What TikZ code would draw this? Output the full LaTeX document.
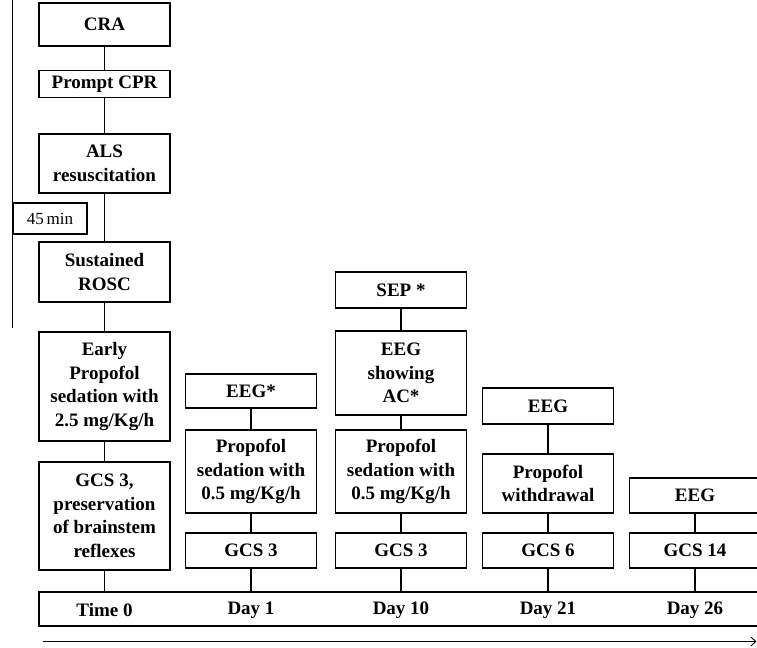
\documentclass[tikz,border=0pt]{standalone}
\usepackage{fontspec}
\setmainfont{Liberation Serif}
\usetikzlibrary{arrows.meta}
\begin{document}
\begin{tikzpicture}[x=1bp,y=-1bp,
  box/.style={draw, line width=1.1pt, minimum width=131bp, inner sep=0pt, align=center,
    font=\fontsize{19bp}{23.5bp}\selectfont\bfseries},
  conn/.style={line width=1.1pt},
  lbl/.style={inner sep=0pt, font=\fontsize{19bp}{23.5bp}\selectfont\bfseries}]
\useasboundingbox (0,0) rectangle (757,648);
\clip (0,0) rectangle (757,648);
\fill[white] (0,0) rectangle (757,648);
% left time line
\coordinate (lt) at (12,0);
\coordinate (lb) at (12,328);
\draw[line width=0.9pt] (lt) -- (lb);
% column 1
\node[box, minimum height=43bp] (cra) at (104.5,24.5) {CRA};
\node[box, minimum height=27bp] (cpr) at (104.5,84) {Prompt CPR};
\node[box, minimum height=59bp] (als) at (104.5,163.5) {ALS\\resuscitation};
\node[box, minimum width=74bp, minimum height=31bp, font=\fontsize{17bp}{20bp}\selectfont] (min) at (50,218.5) {45\,min};
\node[box, minimum height=60bp] (rosc) at (104.5,272) {Sustained\\ROSC};
\node[box, minimum height=109bp] (early) at (104.5,386.5) {Early\\Propofol\\sedation with\\2.5 mg/Kg/h};
\node[box, minimum height=108bp] (gcs0) at (104.5,516) {GCS 3,\\preservation\\of brainstem\\reflexes};
% day 1
\node[box, minimum height=34bp] (eeg1) at (251,391) {EEG*};
\node[box, minimum height=83bp] (prop1) at (251,471.5) {Propofol\\sedation with\\0.5 mg/Kg/h};
\node[box, minimum height=35bp] (gcs1) at (251,550.5) {GCS 3};
% day 10
\node[box, minimum height=36bp] (sep) at (401,290) {SEP *};
\node[box, minimum height=84bp] (eeg10) at (401,373) {EEG\\showing\\AC*};
\node[box, minimum height=83bp] (prop10) at (401,471.5) {Propofol\\sedation with\\0.5 mg/Kg/h};
\node[box, minimum height=35bp] (gcs10) at (401,550.5) {GCS 3};
% day 21
\node[box, minimum height=36bp] (eeg21) at (548,406) {EEG};
\node[box, minimum height=59bp] (prop21) at (548,483.5) {Propofol\\withdrawal};
\node[box, minimum height=35bp] (gcs21) at (548,550.5) {GCS 6};
% day 26
\node[box, minimum height=35bp] (eeg26) at (695,495.5) {EEG};
\node[box, minimum height=35bp] (gcs26) at (695,550.5) {GCS 14};
% timeline box
\node[draw, line width=1.1pt, minimum width=740bp, minimum height=34bp, inner sep=0pt] (tl) at (409,609) {};
\node[lbl] (t0) at (104.5,610) {Time 0};
\node[lbl] (d1) at (251,610) {Day 1};
\node[lbl] (d10) at (401,610) {Day 10};
\node[lbl] (d21) at (548,610) {Day 21};
\node[lbl] (d26) at (695,610) {Day 26};
% arrow
\coordinate (as) at (43,641.5);
\coordinate (ae) at (756.5,641.5);
\draw[line width=0.9pt, -{Straight Barb[length=5bp,width=9bp]}] (as) -- (ae);
% connectors
\draw[conn] (cra) -- (cpr);
\draw[conn] (cpr) -- (als);
\draw[conn] (als) -- (rosc);
\draw[conn] (rosc) -- (early);
\draw[conn] (early) -- (gcs0);
\draw[conn] (gcs0.south) -- (gcs0.south |- tl.north);
\draw[conn] (eeg1) -- (prop1);
\draw[conn] (prop1) -- (gcs1);
\draw[conn] (gcs1.south) -- (gcs1.south |- tl.north);
\draw[conn] (sep) -- (eeg10);
\draw[conn] (eeg10) -- (prop10);
\draw[conn] (prop10) -- (gcs10);
\draw[conn] (gcs10.south) -- (gcs10.south |- tl.north);
\draw[conn] (eeg21) -- (prop21);
\draw[conn] (prop21) -- (gcs21);
\draw[conn] (gcs21.south) -- (gcs21.south |- tl.north);
\draw[conn] (eeg26) -- (gcs26);
\draw[conn] (gcs26.south) -- (gcs26.south |- tl.north);
\end{tikzpicture}
\end{document}
